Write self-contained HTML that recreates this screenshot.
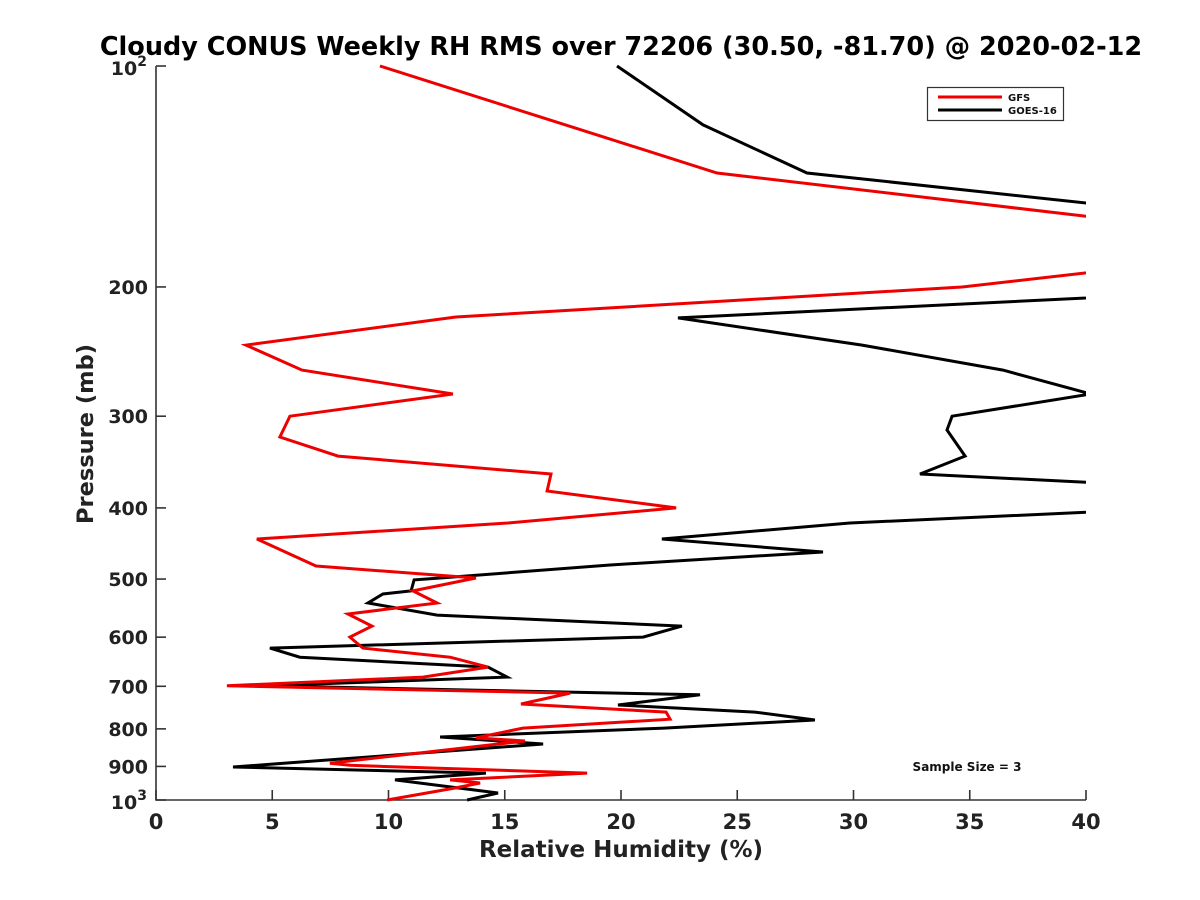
<!DOCTYPE html>
<html><head><meta charset="utf-8"><style>
html,body{margin:0;padding:0;background:#fff;}
svg{display:block;font-family:"DejaVu Sans","Liberation Sans",sans-serif;font-weight:bold;}
</style></head><body>
<svg id="chart" width="1200" height="900">
<text x="621" y="55" text-anchor="middle" font-size="25.5" fill="#000">Cloudy CONUS Weekly RH RMS over 72206 (30.50, -81.70) @ 2020-02-12</text>
<defs><clipPath id="clip"><rect x="156" y="60" width="930" height="742"/></clipPath></defs>
<g id="axes"></g>
<g id="series" clip-path="url(#clip)"></g>
<text x="621" y="857" text-anchor="middle" font-size="23" fill="#222">Relative Humidity (%)</text>
<text transform="translate(93,434) rotate(-90)" text-anchor="middle" font-size="22.5" fill="#222">Pressure (mb)</text>
<g>
<rect x="927.5" y="87.5" width="136" height="33" fill="#fff" stroke="#333" stroke-width="1.2"/>
<line x1="938" y1="97" x2="1002" y2="97" stroke="#e00" stroke-width="3"/>
<text x="1008" y="101" font-size="10" fill="#111">GFS</text>
<line x1="938" y1="110" x2="1002" y2="110" stroke="#000" stroke-width="3"/>
<text x="1008" y="114" font-size="10" fill="#111">GOES-16</text>
</g>
<text x="967" y="771" text-anchor="middle" font-size="12" fill="#111">Sample Size = 3</text>
</svg>
<script>
const gfsPressure=[100,139.9,175.3,200,219.8,240,259.6,279.8,300,320.2,340,359.6,379.3,400,419.4,441,480,498.4,519,539,558,579.5,599.8,621,639,659,680,699,715,740,759,776,798,823,831,891,897,919,939,948,963,1000];
const gfsRH=[9.63,24.13,50.5,34.67,12.9,3.87,6.28,12.77,5.76,5.33,7.83,16.99,16.82,22.37,15.14,4.34,6.88,13.76,11.05,12.09,8.26,9.29,8.34,8.9,12.65,14.28,11.48,3.05,17.81,15.7,21.94,22.11,15.78,13.76,15.87,7.48,8.34,18.54,12.65,13.94,12.86,9.94];
const goesPressure=[100,120.3,139.9,167.3,195.7,220.4,240,259.6,279.8,300,313.3,340,359.6,387.8,419.4,441,459.3,478.4,498.4,501.4,519,524,539,559.8,579.5,599.8,621,639,659,680,699,719,742.4,759,778,798,820.7,838.9,901.6,919,939,978.4,1000];
const goesRH=[19.83,23.53,28,50.8,55.8,22.45,30.37,36.43,40.2,34.24,34.02,34.8,32.86,53.5,29.85,21.76,28.69,19.53,12.22,11.1,10.97,9.76,9.12,12.09,22.62,20.95,4.9,6.19,14.28,15.1,4.65,23.4,19.87,25.76,28.34,21.85,12.22,16.65,3.31,14.19,10.28,14.71,13.38];
const xTicks=[0,5,10,15,20,25,30,35,40];
const yTicks=[100,200,300,400,500,600,700,800,900,1000];
const yTickLabels=["","200","300","400","500","600","700","800","900",""];
const NS='http://www.w3.org/2000/svg';
const X0=156,X1=1086,Y0=66,Y1=800;
function xs(v){return X0+(v/40)*(X1-X0);}
function ys(p){return Y0+Math.log10(p/100)*(Y1-Y0);}
function mk(tag,attrs,parent){const e=document.createElementNS(NS,tag);for(const k in attrs)e.setAttribute(k,attrs[k]);parent.appendChild(e);return e;}
const axes=document.getElementById('axes');
let ax=mk('path',{d:`M${X0} ${Y0}V${Y1}H${X1}`,fill:'none',stroke:'#333','stroke-width':1.6},axes);


xTicks.forEach(v=>{
  const t=mk('line',{x1:xs(v),x2:xs(v),y1:Y1,y2:Y1-10,stroke:'#333','stroke-width':1.6},axes);
  
  
  const l=mk('text',{x:xs(v),y:Y1+29,'text-anchor':'middle','font-size':21,fill:'#222'},axes);
  l.textContent=String(v);
  
  
});
yTicks.forEach((p,i)=>{
  const t=mk('line',{x1:X0,x2:X0+10,y1:ys(p),y2:ys(p),stroke:'#333','stroke-width':1.6},axes);
  
  
  if(yTickLabels[i]){
    const l=mk('text',{x:X0-8,y:ys(p)+7,'text-anchor':'end','font-size':19,fill:'#222'},axes);
    l.textContent=yTickLabels[i];
    
    
  }
});
[[100,'2'],[1000,'3']].forEach(([p,e])=>{
  const l=mk('text',{x:X0-9,y:ys(p)+9,'text-anchor':'end','font-size':19,fill:'#222'},axes);
  l.innerHTML='10<tspan dy="-9" font-size="14">'+e+'</tspan>';
  
  
});
const series=document.getElementById('series');
function line(P,V,color,name){
  const d=P.map((p,i)=>(i?'L':'M')+xs(V[i]).toFixed(1)+' '+ys(p).toFixed(1)).join('');
  const e=mk('path',{d:d,fill:'none',stroke:color,'stroke-width':3,'stroke-linejoin':'miter'},series);
  
  
}
line(goesPressure,goesRH,'#000','goes-16-line');
line(gfsPressure,gfsRH,'#e00','gfs-line');
</script>
</body></html>
